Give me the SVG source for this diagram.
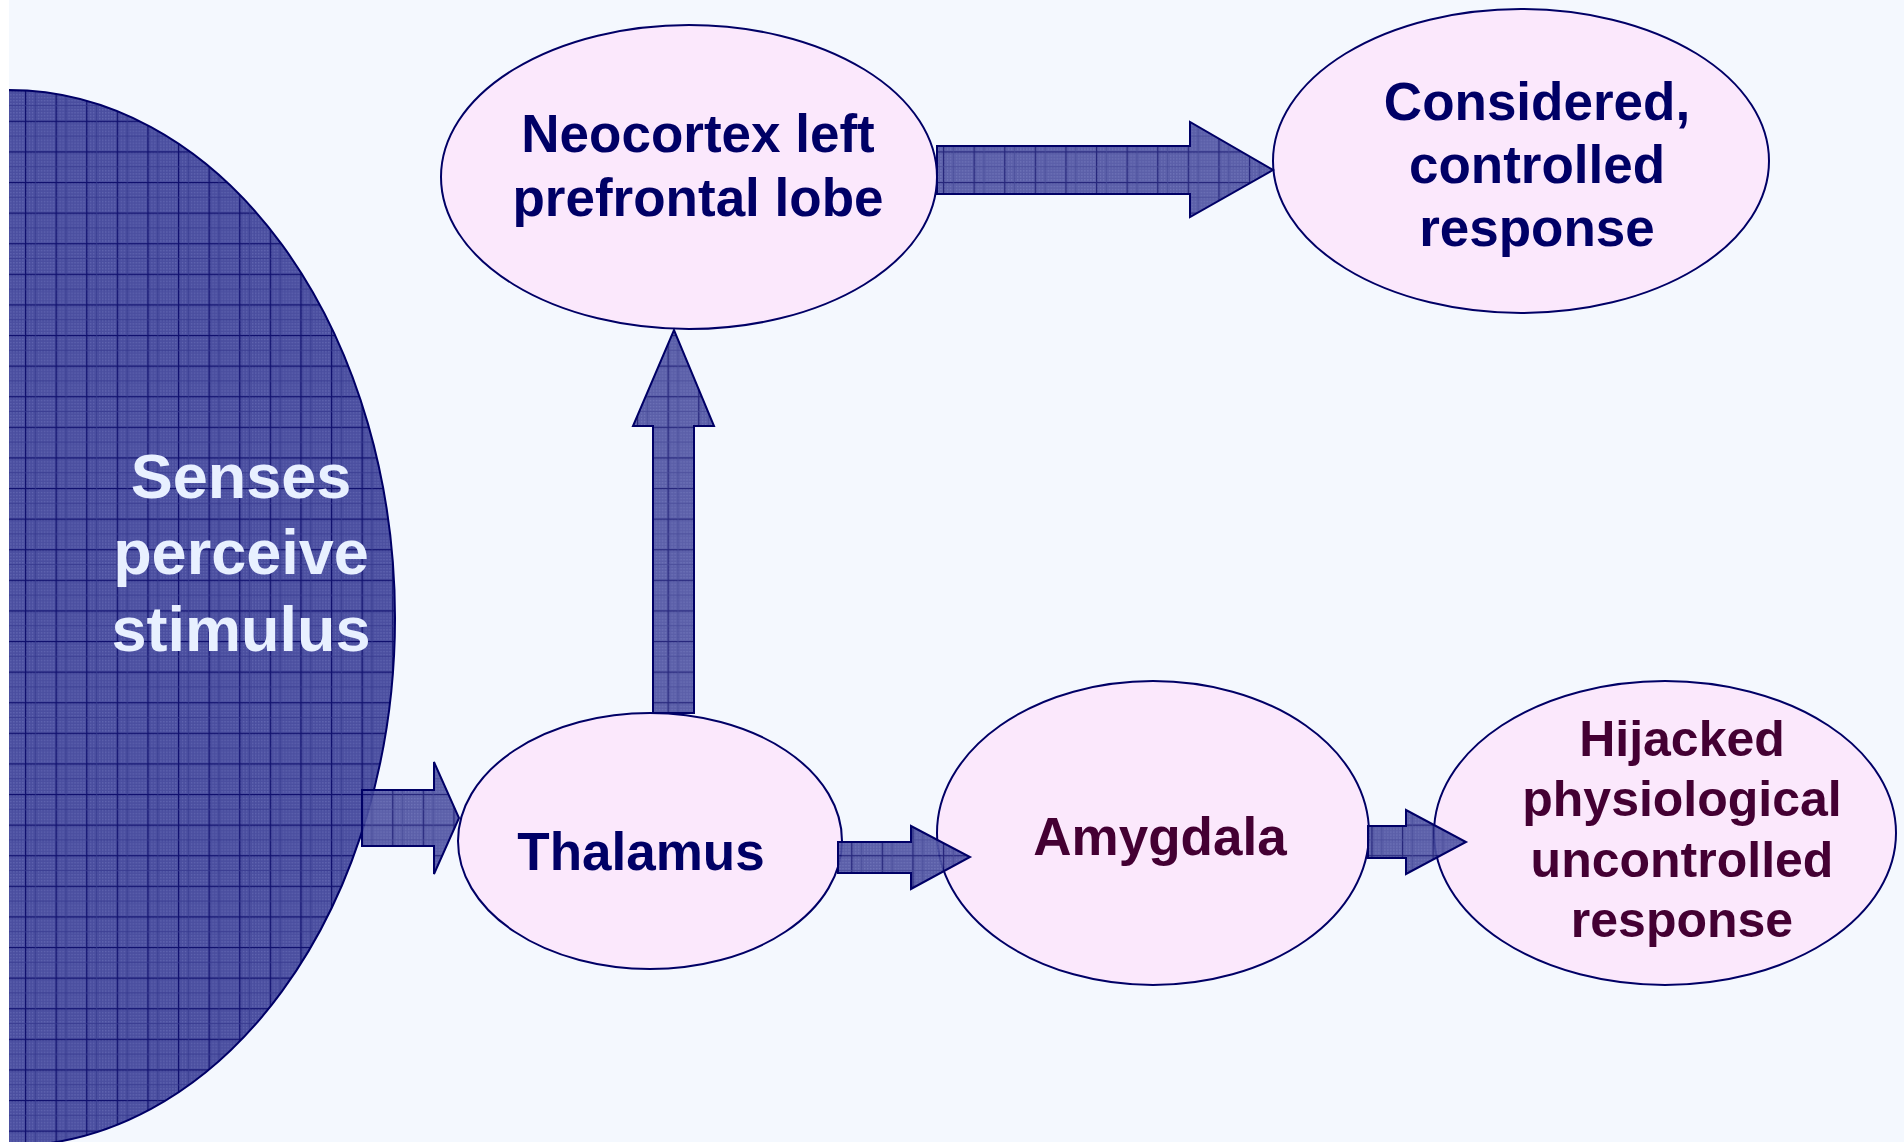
<svg xmlns="http://www.w3.org/2000/svg" width="1904" height="1142" viewBox="0 0 1904 1142">
<defs>
<pattern id="fine" patternUnits="userSpaceOnUse" width="3" height="3">
<rect width="3" height="3" fill="#4A4E9F"/>
<rect x="1" y="1" width="1" height="1" fill="#7C82C6"/>
</pattern>
<pattern id="grid" patternUnits="userSpaceOnUse" x="25" y="29" width="30.6" height="30.6">
<rect width="30.6" height="30.6" fill="url(#fine)"/>
<path d="M0.5 0V30.6M0 0.5H30.6" stroke="#10106E" stroke-width="1.6" fill="none"/>
<path d="M10.5 0V30.6M0 15.5H30.6" stroke="#33368C" stroke-width="0.8" fill="none"/>
</pattern>
<clipPath id="clipLeft"><rect x="9" y="0" width="1895" height="1142"/></clipPath>
<style>
.node ellipse{fill:#FBE8FC;stroke:#000066;stroke-width:2}
.t{font-family:"Liberation Sans",Arial,sans-serif;font-weight:bold;text-anchor:middle}
.navy{fill:#000066;font-size:53px}
.maroon{fill:#440033;font-size:53px}
.arrow{fill:url(#grid);fill-opacity:0.9;stroke:#000066;stroke-width:2;stroke-linejoin:miter}
</style>
</defs>
<rect width="1904" height="1142" fill="#F4F8FE"/>
<rect width="9" height="1142" fill="#FFFFFF"/>

<g id="senses">
<ellipse cx="9" cy="618" rx="386" ry="528" fill="url(#grid)" stroke="#000066" stroke-width="2" clip-path="url(#clipLeft)"/>
<text class="t" fill="#E8F0FF" font-size="63" x="241"><tspan x="241" y="498">Senses</tspan><tspan x="241" y="574">perceive</tspan><tspan x="241" y="651">stimulus</tspan></text>
</g>

<g id="neocortex" class="node">
<ellipse cx="689" cy="177" rx="248" ry="152"/>
<text class="t navy"><tspan x="698" y="152">Neocortex left</tspan><tspan x="698" y="216">prefrontal lobe</tspan></text>
</g>

<g id="considered" class="node">
<ellipse cx="1521" cy="161" rx="248" ry="152"/>
<text class="t navy"><tspan x="1537" y="120">Considered,</tspan><tspan x="1537" y="183">controlled</tspan><tspan x="1537" y="246">response</tspan></text>
</g>

<g id="thalamus" class="node">
<ellipse cx="650" cy="841" rx="192" ry="128"/>
<text class="t navy" x="641" y="870">Thalamus</text>
</g>

<g id="amygdala" class="node">
<ellipse cx="1153" cy="833" rx="216" ry="152"/>
<text class="t maroon" x="1160" y="855">Amygdala</text>
</g>

<g id="hijacked" class="node">
<ellipse cx="1665" cy="833" rx="231" ry="152"/>
<text class="t maroon" style="font-size:50px"><tspan x="1682" y="756">Hijacked</tspan><tspan x="1682" y="816">physiological</tspan><tspan x="1682" y="877">uncontrolled</tspan><tspan x="1682" y="937">response</tspan></text>
</g>

<g id="connectors">
<path class="arrow" d="M362 790H434V762L459 818L434 874V846H362Z"/>
<path class="arrow" d="M653 713V426H633L674 330L714 426H694V713Z"/>
<path class="arrow" d="M937 146H1190V122L1273 170L1190 217V194H937Z"/>
<path class="arrow" d="M838 842H911V826L970 857L911 889V873H838Z"/>
<path class="arrow" d="M1368 826H1406V810L1466 842L1406 874V858H1368Z"/>
</g>
</svg>
